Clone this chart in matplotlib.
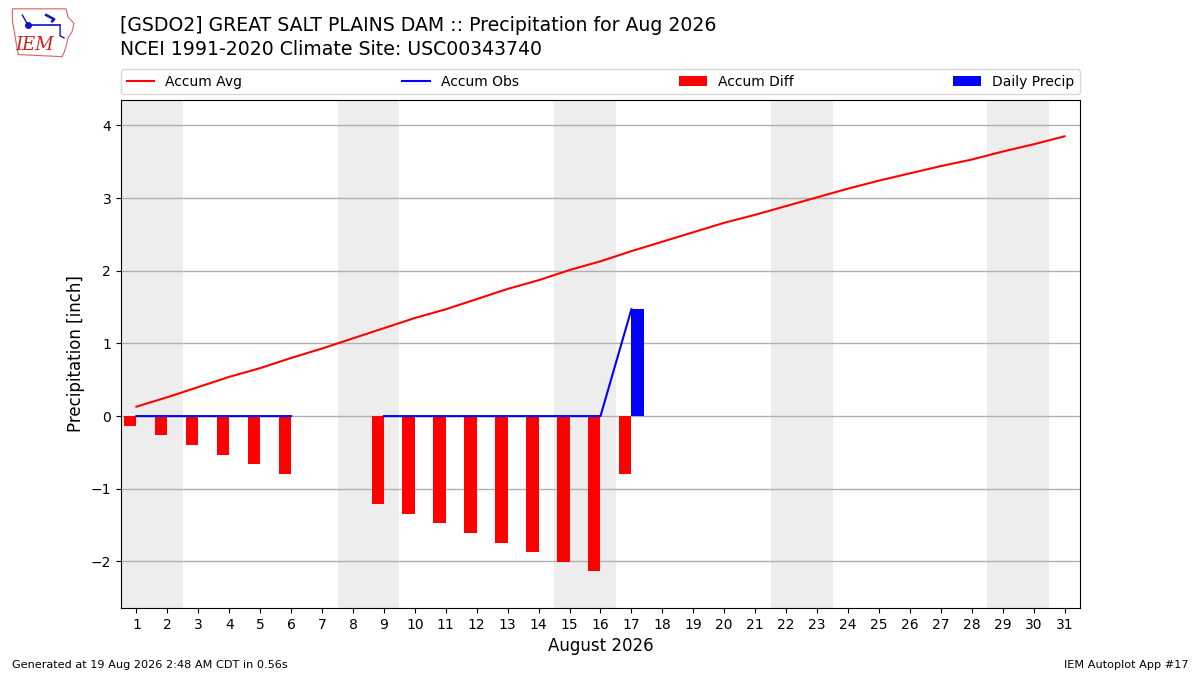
import matplotlib
matplotlib.use("Agg")
import matplotlib.pyplot as plt
from matplotlib.patches import Polygon
import numpy as np

# day of month
days = list(range(1, 32))

# accumulated climatology (inch)
accum_avg = [0.13, 0.26, 0.40, 0.54, 0.66, 0.80, 0.93, 1.07, 1.21, 1.35,
             1.47, 1.61, 1.75, 1.87, 2.01, 2.13, 2.27, 2.40, 2.53, 2.66,
             2.77, 2.89, 3.01, 3.13, 3.24, 3.34, 3.44, 3.53, 3.64, 3.74, 3.85]

# observed accumulation, days 1-17 (None = missing)
obs_days = list(range(1, 18))
accum_obs = [0.0, 0.0, 0.0, 0.0, 0.0, 0.0, None, None, 0.0, 0.0,
             0.0, 0.0, 0.0, 0.0, 0.0, 0.0, 1.47]
daily_precip = [0, 0, 0, 0, 0, 0, None, None, 0, 0, 0, 0, 0, 0, 0, 0, 1.47]

# weekends in Aug 2026
weekend_days = [1, 2, 8, 9, 15, 16, 22, 23, 29, 30]

obs = np.array([np.nan if v is None else v for v in accum_obs])
prec = np.array([np.nan if v is None else v for v in daily_precip])
avg = np.array(accum_avg[:len(obs_days)])
diff = obs - avg

fig = plt.figure(figsize=(12, 6.75), dpi=100)
ax = fig.add_axes([0.1008, 0.0993, 0.7992, 0.7526])

for d in weekend_days:
    ax.axvspan(d - 0.5, d + 0.5, color="#ededed", lw=0, zorder=0)

ax.grid(axis="y", color="#b0b0b0", lw=1, zorder=1)
ax.set_axisbelow(True)

ax.plot(days, accum_avg, color="r", lw=1.5, label="Accum Avg", zorder=3)
ax.plot(obs_days, obs, color="b", lw=1.5, label="Accum Obs", zorder=3)
ax.bar(np.array(obs_days), diff, width=-0.4, align="edge", color="r",
       label="Accum Diff", zorder=2)
ax.bar(np.array(obs_days), prec, width=0.4, align="edge", color="b",
       label="Daily Precip", zorder=2)

ax.set_xlim(0.5, 31.5)
ax.set_ylim(-2.64, 4.35)
ax.set_xticks(days)
ax.set_xticklabels([str(d) for d in days])
ax.set_yticks([-2, -1, 0, 1, 2, 3, 4])
ax.set_yticklabels(["\u22122", "\u22121", "0", "1", "2", "3", "4"])
ax.tick_params(labelsize=10)
ax.set_xlabel("August 2026", fontsize=12)
ax.set_ylabel("Precipitation [inch]", fontsize=12)

ax.legend(loc="lower left", bbox_to_anchor=(0, 1.011, 1, 0.04), mode="expand",
          ncol=4, fontsize=10, borderaxespad=0, handlelength=2.0)

fig.text(0.1, 0.962, "[GSDO2] GREAT SALT PLAINS DAM :: Precipitation for Aug 2026",
         fontsize=13.6, va="center", ha="left")
fig.text(0.1, 0.926, "NCEI 1991-2020 Climate Site: USC00343740",
         fontsize=13.6, va="center", ha="left")

fig.text(0.01, 0.015, "Generated at 19 Aug 2026 2:48 AM CDT in 0.56s",
         fontsize=8.1, ha="left", va="center")
fig.text(0.99, 0.015, "IEM Autoplot App #17", fontsize=8.1, ha="right", va="center")

# rough IEM logo
lax = fig.add_axes([0.007, 0.913, 0.058, 0.077])
lax.set_xlim(0, 70)
lax.set_ylim(0, 50)
lax.axis("off")
iowa = [(4, 48), (58, 48), (60, 40), (66, 34), (64, 26), (60, 20), (58, 12),
        (56, 6), (54, 2), (10, 4), (8, 14), (6, 26), (4, 36)]
lax.add_patch(Polygon(iowa, closed=True, fill=False, ec="#e06060", lw=0.8))
lax.plot([20, 52], [32, 32], color="#1010c0", lw=1.2)
lax.plot([20], [32], "o", color="#1010c0", ms=4)
lax.plot([14, 20], [42, 32], color="#1010c0", lw=1)
lax.plot([38, 46, 44], [42, 38, 36], color="#1010c0", lw=1.8)
lax.plot([52, 52, 56], [32, 22, 20], color="#1010c0", lw=1)
lax.text(26, 13, "IEM", color="#d02020", fontsize=13, family="DejaVu Serif",
         style="italic", ha="center", va="center")

fig.savefig("out.png", dpi=100)
